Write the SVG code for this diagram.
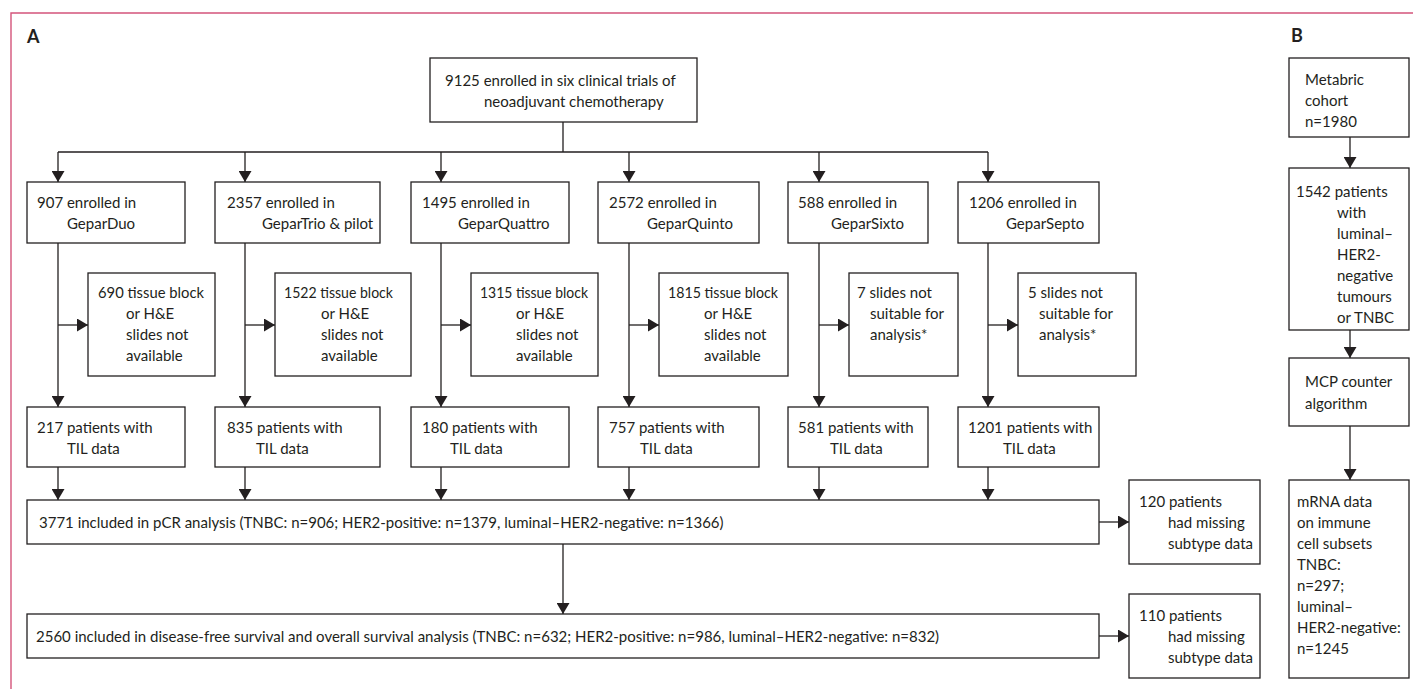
<svg xmlns="http://www.w3.org/2000/svg" width="1413" height="689" viewBox="0 0 1413 689">
<style>
.box{fill:#fff;stroke:#231f20;stroke-width:1.3}
.t{font-family:Lato,"Liberation Sans",sans-serif;font-size:15px;fill:#231f20}
.lbl{font-family:Lato,"Liberation Sans",sans-serif;font-size:18px;font-weight:bold;fill:#231f20}
.c{fill:none;stroke:#231f20;stroke-width:1.3}
.a{fill:none;stroke:#231f20;stroke-width:1.3;marker-end:url(#ah)}
.frame{fill:none;stroke:#d4547b;stroke-width:1.4}
</style>
<defs>
<marker id="ah" markerUnits="userSpaceOnUse" markerWidth="11" markerHeight="13" refX="11" refY="6.5" orient="auto">
<path d="M0,0 L11,6.5 L0,13 Z" fill="#231f20"/>
</marker>
</defs>
<rect width="1413" height="689" fill="#fff"/>
<path class="frame" d="M11,689 V13 H1413"/>
<text class="lbl" x="27" y="43">A</text>
<text class="lbl" x="1291" y="42">B</text>

<g id="connectors">
<path class="c" d="M563,122 V152 M58,152 H988"/>
<path class="a" d="M58,152 V182"/>
<path class="a" d="M245,152 V182"/>
<path class="a" d="M441,152 V182"/>
<path class="a" d="M629,152 V182"/>
<path class="a" d="M819,152 V182"/>
<path class="a" d="M988,152 V182"/>
<path class="a" d="M58,243 V407"/>
<path class="a" d="M245,243 V407"/>
<path class="a" d="M441,243 V407"/>
<path class="a" d="M629,243 V407"/>
<path class="a" d="M819,243 V407"/>
<path class="a" d="M988,243 V407"/>
<path class="a" d="M58,325 H88"/>
<path class="a" d="M245,325 H275"/>
<path class="a" d="M441,325 H471"/>
<path class="a" d="M629,325 H659"/>
<path class="a" d="M819,325 H849"/>
<path class="a" d="M988,325 H1018"/>
<path class="a" d="M58,467 V500"/>
<path class="a" d="M245,467 V500"/>
<path class="a" d="M441,467 V500"/>
<path class="a" d="M629,467 V500"/>
<path class="a" d="M819,467 V500"/>
<path class="a" d="M988,467 V500"/>
<path class="a" d="M563,544 V614"/>
<path class="a" d="M1099,522 H1129"/>
<path class="a" d="M1099,636 H1129"/>
<path class="a" d="M1350,137 V168"/>
<path class="a" d="M1350,330 V358"/>
<path class="a" d="M1350,426 V480"/>
</g>

<g id="n-top"><rect class="box" x="430" y="58" width="267" height="64"/>
<text class="t" x="445" y="86">9125 enrolled in six clinical trials of</text>
<text class="t" x="484" y="107">neoadjuvant chemotherapy</text></g>

<g id="n-duo"><rect class="box" x="27" y="182" width="158" height="61"/>
<text class="t" x="37" y="208">907 enrolled in</text><text class="t" x="67" y="229">GeparDuo</text></g>
<g id="n-trio"><rect class="box" x="215" y="182" width="165" height="61"/>
<text class="t" x="227" y="208">2357 enrolled in</text><text class="t" x="262" y="229">GeparTrio &amp; pilot</text></g>
<g id="n-quattro"><rect class="box" x="411" y="182" width="158" height="61"/>
<text class="t" x="422" y="208">1495 enrolled in</text><text class="t" x="458" y="229">GeparQuattro</text></g>
<g id="n-quinto"><rect class="box" x="598" y="182" width="161" height="61"/>
<text class="t" x="609" y="208">2572 enrolled in</text><text class="t" x="647" y="229">GeparQuinto</text></g>
<g id="n-sixto"><rect class="box" x="788" y="182" width="140" height="61"/>
<text class="t" x="798" y="208">588 enrolled in</text><text class="t" x="831" y="229">GeparSixto</text></g>
<g id="n-septo"><rect class="box" x="958" y="182" width="141" height="61"/>
<text class="t" x="969" y="208">1206 enrolled in</text><text class="t" x="1006" y="229">GeparSepto</text></g>

<g id="x-duo"><rect class="box" x="88" y="273" width="127" height="103"/>
<text class="t" x="98" y="298" textLength="106" lengthAdjust="spacingAndGlyphs">690 tissue block</text><text class="t" x="126" y="319">or H&amp;E</text><text class="t" x="126" y="340">slides not</text><text class="t" x="126" y="361">available</text></g>
<g id="x-trio"><rect class="box" x="275" y="273" width="136" height="103"/>
<text class="t" x="284" y="298" textLength="109" lengthAdjust="spacingAndGlyphs">1522 tissue block</text><text class="t" x="321" y="319">or H&amp;E</text><text class="t" x="321" y="340">slides not</text><text class="t" x="321" y="361">available</text></g>
<g id="x-quattro"><rect class="box" x="471" y="273" width="127" height="103"/>
<text class="t" x="480" y="298" textLength="108" lengthAdjust="spacingAndGlyphs">1315 tissue block</text><text class="t" x="516" y="319">or H&amp;E</text><text class="t" x="516" y="340">slides not</text><text class="t" x="516" y="361">available</text></g>
<g id="x-quinto"><rect class="box" x="659" y="273" width="129" height="103"/>
<text class="t" x="668" y="298" textLength="110" lengthAdjust="spacingAndGlyphs">1815 tissue block</text><text class="t" x="704" y="319">or H&amp;E</text><text class="t" x="704" y="340">slides not</text><text class="t" x="704" y="361">available</text></g>
<g id="x-sixto"><rect class="box" x="849" y="273" width="109" height="103"/>
<text class="t" x="857" y="298">7 slides not</text><text class="t" x="870" y="319">suitable for</text><text class="t" x="870" y="340">analysis*</text></g>
<g id="x-septo"><rect class="box" x="1018" y="273" width="118" height="103"/>
<text class="t" x="1028" y="298">5 slides not</text><text class="t" x="1039" y="319">suitable for</text><text class="t" x="1039" y="340">analysis*</text></g>

<g id="t-duo"><rect class="box" x="27" y="407" width="158" height="60"/>
<text class="t" x="37" y="433">217 patients with</text><text class="t" x="67" y="454">TIL data</text></g>
<g id="t-trio"><rect class="box" x="215" y="407" width="165" height="60"/>
<text class="t" x="227" y="433">835 patients with</text><text class="t" x="256" y="454">TIL data</text></g>
<g id="t-quattro"><rect class="box" x="411" y="407" width="158" height="60"/>
<text class="t" x="422" y="433">180 patients with</text><text class="t" x="450" y="454">TIL data</text></g>
<g id="t-quinto"><rect class="box" x="598" y="407" width="161" height="60"/>
<text class="t" x="609" y="433">757 patients with</text><text class="t" x="640" y="454">TIL data</text></g>
<g id="t-sixto"><rect class="box" x="788" y="407" width="140" height="60"/>
<text class="t" x="798" y="433">581 patients with</text><text class="t" x="830" y="454">TIL data</text></g>
<g id="t-septo"><rect class="box" x="958" y="407" width="141" height="60"/>
<text class="t" x="968" y="433">1201 patients with</text><text class="t" x="1003" y="454">TIL data</text></g>

<g id="n-pcr"><rect class="box" x="27" y="500" width="1072" height="44"/>
<text class="t" x="39" y="528">3771 included in pCR analysis (TNBC: n=906; HER2-positive: n=1379, luminal–HER2-negative: n=1366)</text></g>
<g id="n-dfs"><rect class="box" x="27" y="614" width="1072" height="44"/>
<text class="t" x="36" y="642">2560 included in disease-free survival and overall survival analysis (TNBC: n=632; HER2-positive: n=986, luminal–HER2-negative: n=832)</text></g>

<g id="x-pcr"><rect class="box" x="1129" y="480" width="131" height="84"/>
<text class="t" x="1139" y="507">120 patients</text><text class="t" x="1168" y="528">had missing</text><text class="t" x="1168" y="549">subtype data</text></g>
<g id="x-dfs"><rect class="box" x="1129" y="594" width="131" height="84"/>
<text class="t" x="1139" y="621">110 patients</text><text class="t" x="1168" y="642">had missing</text><text class="t" x="1168" y="663">subtype data</text></g>

<g id="b-metabric"><rect class="box" x="1289" y="58" width="120" height="79"/>
<text class="t" x="1305" y="85">Metabric</text><text class="t" x="1305" y="106">cohort</text><text class="t" x="1305" y="127">n=1980</text></g>
<g id="b-1542"><rect class="box" x="1289" y="168" width="120" height="162"/>
<text class="t" x="1296" y="197">1542 patients</text><text class="t" x="1337" y="218">with</text><text class="t" x="1337" y="239">luminal–</text><text class="t" x="1337" y="260">HER2-</text><text class="t" x="1337" y="281">negative</text><text class="t" x="1337" y="302">tumours</text><text class="t" x="1337" y="323">or TNBC</text></g>
<g id="b-mcp"><rect class="box" x="1289" y="358" width="120" height="68"/>
<text class="t" x="1305" y="387">MCP counter</text><text class="t" x="1305" y="409">algorithm</text></g>
<g id="b-mrna"><rect class="box" x="1289" y="480" width="120" height="198"/>
<text class="t" x="1297" y="507">mRNA data</text><text class="t" x="1297" y="528">on immune</text><text class="t" x="1297" y="549">cell subsets</text><text class="t" x="1297" y="570">TNBC:</text><text class="t" x="1297" y="591">n=297;</text><text class="t" x="1297" y="612">luminal–</text><text class="t" x="1297" y="633">HER2-negative:</text><text class="t" x="1297" y="654">n=1245</text></g>
</svg>
